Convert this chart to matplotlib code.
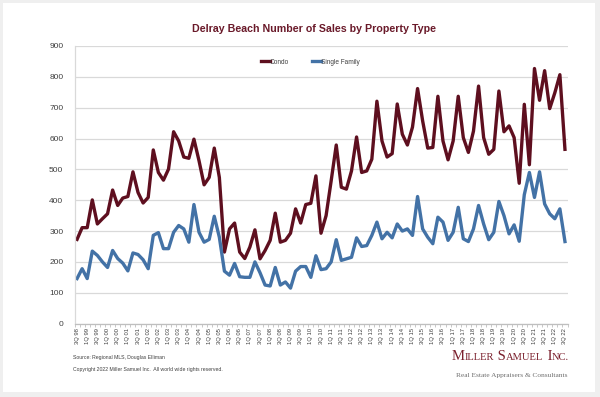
import matplotlib
matplotlib.use("Agg")
import matplotlib.pyplot as plt
from matplotlib.patches import Rectangle

# Data, quarterly 3Q 98 .. 3Q 22
condo = [273, 311, 311, 401, 323, 340, 356, 433, 383, 407, 412, 492, 425, 391, 409, 563,
         490, 465, 501, 622, 592, 540, 536, 598, 528, 450, 474, 569, 474, 232, 307, 326,
         232, 211, 248, 304, 210, 237, 270, 358, 264, 270, 293, 372, 326, 386, 390, 479,
         293, 350, 463, 579, 442, 436, 495, 605, 490, 495, 533, 721, 592, 540, 551, 712,
         614, 579, 637, 762, 657, 569, 571, 737, 592, 531, 592, 737, 603, 555, 624, 770,
         603, 549, 565, 754, 622, 641, 603, 455, 711, 515, 827, 724, 820, 697, 748, 807,
         565]
single_family = [146, 178, 146, 235, 221, 200, 182, 237, 211, 196, 171, 229, 224, 207, 178, 286,
                 295, 243, 243, 296, 318, 307, 264, 386, 296, 264, 273, 348, 280, 170, 157, 195,
                 152, 150, 150, 200, 165, 125, 122, 182, 125, 135, 115, 170, 185, 185, 150, 220,
                 175, 178, 200, 272, 205, 210, 215, 278, 250, 253, 286, 329, 275, 296, 278, 323,
                 300, 307, 286, 412, 307, 280, 259, 345, 329, 270, 296, 377, 275, 266, 307, 383,
                 323, 272, 296, 396, 350, 291, 320, 267, 418, 490, 409, 492, 388, 356, 340, 372,
                 266]

# quarter labels 3Q 98 ... 3Q 22
quarters = []
for yr in range(1998, 2023):
    for q in range(1, 5):
        if (yr == 1998 and q < 3) or (yr == 2022 and q > 3):
            continue
        quarters.append("%dQ %02d" % (q, yr % 100))

y_ticks = [0, 100, 200, 300, 400, 500, 600, 700, 800, 900]

#===============================
#   FIGURE OPTIONS
#===============================
plt.rcParams['font.family'] = ['Liberation Sans', 'DejaVu Sans']

fig = plt.figure(figsize=(6.0, 3.97), dpi=100)
fig.patch.set_facecolor('#efefef')
fig.patches.append(Rectangle((3/600, 1-392/397), 592/600, 389/397, transform=fig.transFigure,
                             facecolor='white', edgecolor='none', zorder=-10))

ax = fig.add_axes([74.5/600, 1-323.6/397, 493/600, 277.6/397])
ax.set_facecolor('none')

x = list(range(len(quarters)))
ax.plot(x, condo, color='#5e0f1f', lw=2.4, label='Condo')
ax.plot(x, single_family, color='#4372a6', lw=2.4, label='Single Family')

ax.set_xlim(-0.5, len(quarters) - 0.5)
ax.set_ylim(0, 900)
ax.set_yticks(y_ticks)
ax.set_yticklabels([str(v) for v in y_ticks], fontsize=6, color='#404040')
ax.tick_params(axis='y', length=0, pad=8)
ax.yaxis.grid(True, color='#d9d9d9', lw=0.9)
ax.set_axisbelow(True)

ax.set_xticks(x[::2])
ax.set_xticklabels(quarters[::2], rotation=90, fontsize=4.2, color='#404040')
ax.set_xticks([i - 0.5 for i in range(len(quarters) + 1)], minor=True)
ax.tick_params(axis='x', which='major', length=0, pad=3)
ax.tick_params(axis='x', which='minor', length=2.5, color='#bfbfbf', width=0.6)

for s in ['top', 'right']:
    ax.spines[s].set_visible(False)
ax.spines['left'].set_color('#d9d9d9')
ax.spines['bottom'].set_color('#bfbfbf')
ax.spines['left'].set_linewidth(0.9)
ax.spines['bottom'].set_linewidth(0.9)

leg = ax.legend(loc='center', bbox_to_anchor=(0.478, 0.942), ncol=2, frameon=False,
                fontsize=4.7, handlelength=1.4, handletextpad=0.0, columnspacing=3.5,
                labelcolor='#404040')

fig.text(314/600, 1-29/397, "Delray Beach Number of Sales by Property Type", ha='center', va='center',
         fontsize=7.7, fontweight='bold', color='#6a1a2a')

fig.text(73/600, 1-357/397, "Source: Regional MLS, Douglas Elliman", fontsize=3.7, color='#404040', va='center')
fig.text(73/600, 1-369/397, "Copyright 2022 Miller Samuel Inc.  All world wide rights reserved.",
         fontsize=3.7, color='#404040', va='center')

# logo in faux small caps: big first letters, smaller rest, placed one after another
serif = ['Liberation Serif', 'DejaVu Serif']
parts = [("M", 10.5), ("ILLER", 7.6), (" S", 10.5), ("AMUEL", 7.6), (" I", 10.5), ("NC.", 7.6)]
renderer = fig.canvas.get_renderer()
xpos = 452
for txt, fs in parts:
    t = fig.text(xpos/600, 1-360/397, txt, fontsize=fs, color='#7a1f2c', family=serif, va='baseline')
    bb = t.get_window_extent(renderer)
    xpos = bb.x1
fig.text(568/600, 1-376/397, "Real Estate Appraisers & Consultants", ha='right', va='center',
         fontsize=5.3, color='#707070', family=serif)

fig.savefig("out.png", dpi=100, facecolor=fig.get_facecolor())
